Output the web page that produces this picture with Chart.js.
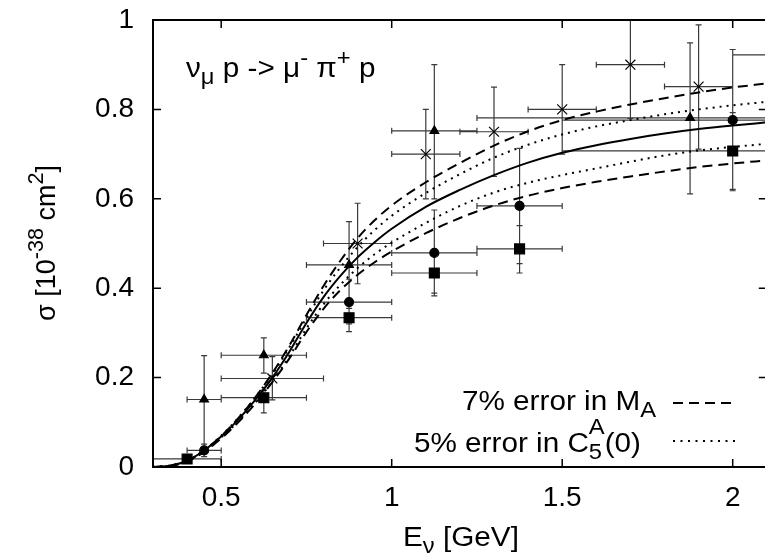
<!DOCTYPE html>
<html>
<head>
<meta charset="utf-8">
<script src="https://cdn.jsdelivr.net/npm/chart.js@4.4.0/dist/chart.umd.min.js"></script>
<style>
html, body { margin: 0; padding: 0; background: #fff; overflow: hidden; }
#wrap { width: 775px; height: 558px; }
</style>
</head>
<body>
<div id="wrap"><canvas id="grafico" width="775" height="558"></canvas></div>
<script>
const fonte = "'Liberation Sans', Arial, Helvetica, sans-serif"
const esticar = 1.1

const eixoXTicks = [0.5, 1, 1.5, 2]
const eixoYTicks = [0, 0.2, 0.4, 0.6, 0.8, 1]

// curvas teoricas
const energiaCurva = [0.30, 0.35, 0.40, 0.45, 0.50, 0.55, 0.60, 0.65, 0.70, 0.75, 0.80, 0.85, 0.90, 0.95, 1.00, 1.10, 1.20, 1.30, 1.40, 1.50, 1.60, 1.70, 1.80, 1.90, 2.00, 2.10]
const sigmaCentral = [0.000, 0.003, 0.014, 0.037, 0.068, 0.106, 0.150, 0.200, 0.258, 0.322, 0.380, 0.428, 0.469, 0.503, 0.533, 0.582, 0.620, 0.653, 0.681, 0.703, 0.720, 0.734, 0.746, 0.756, 0.764, 0.771]
const sigmaMaMais = [0.000, 0.003, 0.014, 0.037, 0.069, 0.109, 0.156, 0.210, 0.272, 0.340, 0.405, 0.462, 0.512, 0.552, 0.585, 0.637, 0.680, 0.719, 0.751, 0.776, 0.795, 0.811, 0.825, 0.838, 0.849, 0.858]
const sigmaMaMenos = [0.000, 0.002, 0.012, 0.034, 0.064, 0.100, 0.142, 0.190, 0.243, 0.302, 0.354, 0.396, 0.430, 0.458, 0.482, 0.523, 0.557, 0.585, 0.607, 0.624, 0.638, 0.650, 0.661, 0.671, 0.679, 0.686]
const sigmaC5Mais = [0.000, 0.003, 0.014, 0.038, 0.070, 0.110, 0.156, 0.208, 0.268, 0.333, 0.395, 0.447, 0.492, 0.530, 0.562, 0.613, 0.655, 0.692, 0.721, 0.744, 0.762, 0.776, 0.789, 0.800, 0.809, 0.817]
const sigmaC5Menos = [0.000, 0.003, 0.013, 0.036, 0.066, 0.102, 0.144, 0.192, 0.248, 0.310, 0.364, 0.408, 0.445, 0.476, 0.502, 0.546, 0.584, 0.614, 0.636, 0.653, 0.668, 0.683, 0.697, 0.708, 0.716, 0.723]

// dados experimentais
const trianguloE = [0.45, 0.625, 0.875, 1.125, 1.875]
const trianguloSigma = [0.151, 0.25, 0.452, 0.752, 0.781]
const trianguloEMin = [0.40, 0.50, 0.75, 1.00, 1.25]
const trianguloEMax = [0.50, 0.75, 1.00, 1.25, 2.50]
const trianguloSigmaMin = [0.051, 0.21, 0.355, 0.60, 0.611]
const trianguloSigmaMax = [0.249, 0.289, 0.549, 0.90, 0.949]

const cruzE = [0.65, 0.90, 1.10, 1.30, 1.50, 1.70, 1.90, 2.12]
const cruzSigma = [0.198, 0.50, 0.70, 0.75, 0.80, 0.90, 0.851, 0.922]
const cruzEMin = [0.50, 0.80, 1.00, 1.20, 1.40, 1.60, 1.80, 2.00]
const cruzEMax = [0.80, 1.00, 1.20, 1.40, 1.60, 1.80, 2.00, 2.24]
const cruzSigmaMin = [0.15, 0.41, 0.60, 0.65, 0.70, 0.78, 0.711, 0.80]
const cruzSigmaMax = [0.247, 0.59, 0.80, 0.85, 0.90, 1.02, 0.989, 1.04]

const circuloE = [0.45, 0.875, 1.125, 1.375, 2.0]
const circuloSigma = [0.037, 0.369, 0.479, 0.584, 0.776]
const circuloEMin = [0.40, 0.75, 1.00, 1.25, 1.50]
const circuloEMax = [0.50, 1.00, 1.25, 1.50, 2.50]
const circuloSigmaMin = [0.023, 0.32, 0.383, 0.455, 0.618]
const circuloSigmaMax = [0.051, 0.42, 0.575, 0.713, 0.934]

const quadradoE = [0.40, 0.625, 0.875, 1.125, 1.375, 2.0]
const quadradoSigma = [0.018, 0.155, 0.334, 0.434, 0.488, 0.707]
const quadradoEMin = [0.30, 0.50, 0.75, 1.00, 1.25, 1.50]
const quadradoEMax = [0.50, 0.75, 1.00, 1.25, 1.50, 2.50]
const quadradoSigmaMin = [0.010, 0.121, 0.303, 0.389, 0.434, 0.621]
const quadradoSigmaMax = [0.026, 0.172, 0.365, 0.479, 0.540, 0.793]

const experimentos = [
    { estilo: 'triangle', raio: 5, e: trianguloE, s: trianguloSigma, eMin: trianguloEMin, eMax: trianguloEMax, sMin: trianguloSigmaMin, sMax: trianguloSigmaMax },
    { estilo: 'crossRot', raio: 7, e: cruzE, s: cruzSigma, eMin: cruzEMin, eMax: cruzEMax, sMin: cruzSigmaMin, sMax: cruzSigmaMax },
    { estilo: 'circle', raio: 4.5, e: circuloE, s: circuloSigma, eMin: circuloEMin, eMax: circuloEMax, sMin: circuloSigmaMin, sMax: circuloSigmaMax },
    { estilo: 'rect', raio: 7, e: quadradoE, s: quadradoSigma, eMin: quadradoEMin, eMax: quadradoEMax, sMin: quadradoSigmaMin, sMax: quadradoSigmaMax }
]

function curva(valores, tracejado) {
    return {
        type: 'line',
        data: energiaCurva.map((e, i) => ({ x: e, y: valores[i] })),
        borderColor: '#000',
        borderWidth: 2,
        borderDash: tracejado,
        pointRadius: 0,
        cubicInterpolationMode: 'monotone',
        fill: false
    }
}

let datasets = [
    curva(sigmaCentral, []),
    curva(sigmaMaMais, [10, 6]),
    curva(sigmaMaMenos, [10, 6]),
    curva(sigmaC5Mais, [2, 5]),
    curva(sigmaC5Menos, [2, 5])
]

experimentos.forEach(exp => {
    datasets.push({
        type: 'scatter',
        data: exp.e.map((e, i) => ({ x: e, y: exp.s[i] })),
        pointStyle: exp.estilo,
        pointRadius: exp.raio,
        borderColor: '#000',
        backgroundColor: '#000',
        borderWidth: 1.2
    })
})

// barras de erro desenhadas por baixo dos marcadores
const barrasErro = {
    id: 'barrasErro',
    beforeDatasetsDraw(chart) {
        const { ctx, chartArea: a, scales: { x, y } } = chart
        ctx.save()
        ctx.beginPath()
        ctx.rect(a.left, a.top, a.right - a.left, a.bottom - a.top)
        ctx.clip()
        ctx.strokeStyle = '#3a3a3a'
        ctx.lineWidth = 1.2
        const cap = 3
        ctx.beginPath()
        experimentos.forEach(exp => {
            for (let i = 0; i < exp.e.length; i++) {
                const px = x.getPixelForValue(exp.e[i])
                const py = y.getPixelForValue(exp.s[i])
                const x0 = x.getPixelForValue(exp.eMin[i])
                const x1 = x.getPixelForValue(exp.eMax[i])
                const y0 = y.getPixelForValue(exp.sMin[i])
                const y1 = y.getPixelForValue(exp.sMax[i])
                ctx.moveTo(x0, py); ctx.lineTo(x1, py)
                ctx.moveTo(x0, py - cap); ctx.lineTo(x0, py + cap)
                ctx.moveTo(x1, py - cap); ctx.lineTo(x1, py + cap)
                ctx.moveTo(px, y0); ctx.lineTo(px, y1)
                ctx.moveTo(px - cap, y0); ctx.lineTo(px + cap, y0)
                ctx.moveTo(px - cap, y1); ctx.lineTo(px + cap, y1)
            }
        })
        ctx.stroke()
        ctx.restore()
    }
}

const moldura = {
    id: 'moldura',
    afterDatasetsDraw(chart) {
        const { ctx, chartArea: a, scales: { x, y } } = chart
        ctx.save()
        ctx.strokeStyle = '#000'
        ctx.lineWidth = 2
        ctx.strokeRect(a.left, a.top, a.right - a.left, a.bottom - a.top)
        ctx.lineWidth = 1.5
        ctx.beginPath()
        eixoXTicks.forEach(v => {
            const px = x.getPixelForValue(v)
            ctx.moveTo(px, a.bottom); ctx.lineTo(px, a.bottom - 8)
            ctx.moveTo(px, a.top); ctx.lineTo(px, a.top + 8)
        })
        eixoYTicks.forEach(v => {
            const py = y.getPixelForValue(v)
            ctx.moveTo(a.left, py); ctx.lineTo(a.left + 8, py)
            ctx.moveTo(a.right, py); ctx.lineTo(a.right - 8, py)
        })
        ctx.stroke()
        ctx.restore()
    }
}

// texto com indices: partes = [texto, tipo], tipo '' | 'sub' | 'sup' | 'subFixo' | 'supAlto'
function larguraRica(ctx, partes, tam) {
    let w = 0
    partes.forEach(([t, tipo]) => {
        ctx.font = `${tipo ? tam * 0.8 : tam}px ${fonte}`
        if (tipo !== 'subFixo') w += ctx.measureText(t).width
    })
    return w
}

function textoRico(ctx, partes, x, y, tam, alinhar, fator) {
    ctx.save()
    ctx.translate(x, y)
    ctx.scale(fator, 1)
    let cx = 0
    if (alinhar === 'right') cx = -larguraRica(ctx, partes, tam)
    if (alinhar === 'center') cx = -larguraRica(ctx, partes, tam) / 2
    ctx.fillStyle = '#000'
    ctx.textBaseline = 'alphabetic'
    ctx.textAlign = 'left'
    partes.forEach(([t, tipo]) => {
        let dy = 0
        if (tipo === 'sub' || tipo === 'subFixo') dy = 7
        if (tipo === 'sup') dy = -12
        if (tipo === 'supAlto') dy = -18
        ctx.font = `${tipo ? tam * 0.8 : tam}px ${fonte}`
        ctx.fillText(t, cx, dy)
        if (tipo !== 'subFixo') cx += ctx.measureText(t).width
    })
    ctx.restore()
}

const textos = {
    id: 'textos',
    afterDraw(chart) {
        const { ctx } = chart
        const tam = 27
        textoRico(ctx, [['ν', ''], ['μ', 'sub'], [' p -> μ', ''], ['-', 'sup'], [' π', ''], ['+', 'sup'], [' p', '']], 186, 77, tam, 'left', esticar)

        textoRico(ctx, [['7% error in M', ''], ['A', 'sub']], 656, 410, tam, 'right', esticar)
        textoRico(ctx, [['5% error in C', ''], ['5', 'subFixo'], ['A', 'supAlto'], ['(0)', '']], 641, 452, tam, 'right', esticar)

        ctx.save()
        ctx.strokeStyle = '#000'
        ctx.lineWidth = 2
        ctx.setLineDash([10, 6])
        ctx.beginPath(); ctx.moveTo(673, 403); ctx.lineTo(735, 403); ctx.stroke()
        ctx.setLineDash([2, 5.5])
        ctx.beginPath(); ctx.moveTo(673, 441); ctx.lineTo(735, 441); ctx.stroke()
        ctx.restore()

        textoRico(ctx, [['E', ''], ['ν', 'sub'], [' [GeV]', '']], 461, 546, tam, 'center', esticar)

        ctx.save()
        ctx.translate(55, 243)
        ctx.rotate(-Math.PI / 2)
        textoRico(ctx, [['σ [10', ''], ['-38', 'sup'], [' cm', ''], ['2', 'sup'], [']', '']], 0, 0, tam, 'center', 1)
        ctx.restore()
    }
}

window.graficoSecaoChoque = new Chart(document.getElementById('grafico'), {
    data: { datasets: datasets },
    options: {
        responsive: false,
        animation: false,
        devicePixelRatio: 1,
        layout: { padding: { top: 20, right: 6, left: 0, bottom: 0 } },
        plugins: {
            legend: { display: false },
            tooltip: { enabled: false }
        },
        scales: {
            x: {
                type: 'linear',
                min: 0.3,
                max: 2.1,
                afterBuildTicks: s => { s.ticks = eixoXTicks.map(v => ({ value: v })) },
                afterFit: s => { s.height = 91; s.paddingLeft = 0; s.paddingRight = 0 },
                grid: { display: false, drawTicks: false, tickLength: 0 },
                border: { display: false },
                ticks: {
                    padding: 14,
                    color: '#000',
                    maxRotation: 0,
                    autoSkip: false,
                    font: { family: fonte, size: 28 },
                    callback: v => String(v)
                }
            },
            y: {
                type: 'linear',
                min: 0,
                max: 1,
                afterBuildTicks: s => { s.ticks = eixoYTicks.map(v => ({ value: v })) },
                afterFit: s => { s.width = 153; s.paddingTop = 0; s.paddingBottom = 0 },
                grid: { display: false, drawTicks: false, tickLength: 0 },
                border: { display: false },
                ticks: {
                    padding: 19,
                    color: '#000',
                    autoSkip: false,
                    font: { family: fonte, size: 28 },
                    callback: v => String(v)
                }
            }
        }
    },
    plugins: [barrasErro, moldura, textos]
})
</script>
</body>
</html>
